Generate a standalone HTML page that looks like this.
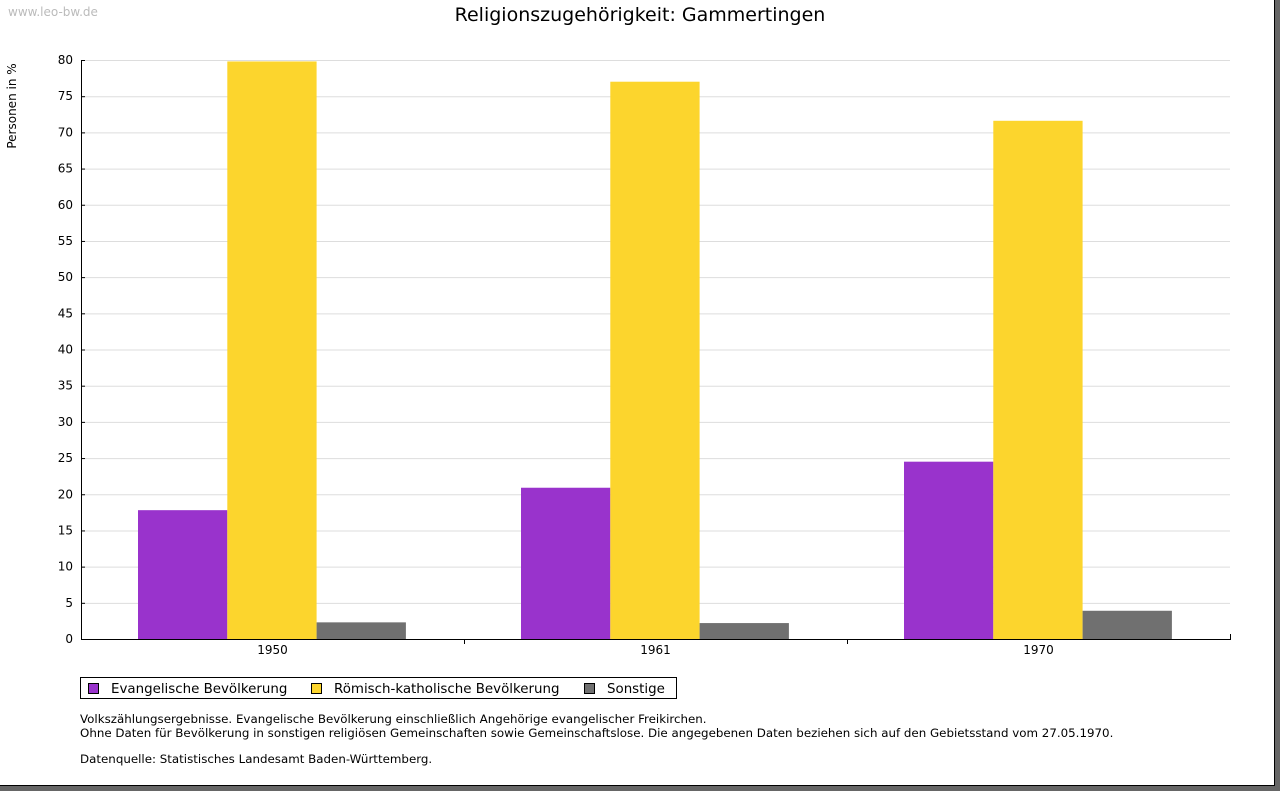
<!DOCTYPE html>
<html><head><meta charset="utf-8"><style>
body{margin:0;background:#fff;font-family:"DejaVu Sans","Liberation Sans",sans-serif}
#wrap{position:relative;width:1280px;height:791px;background:#666}
#page{position:absolute;left:0;top:0;width:1274px;height:785px;background:#fff;border-right:1px solid #000;border-bottom:1px solid #000}
svg{position:absolute;left:0;top:0;font-family:"DejaVu Sans","Liberation Sans",sans-serif}
.note{position:absolute;left:80px;font-size:11.85px;color:#000;white-space:nowrap}
</style></head><body>
<div id="wrap">
<div id="page"></div>
<svg id="chart" width="1280" height="791"></svg>
<div class="note" style="top:712px">Volkszählungsergebnisse. Evangelische Bevölkerung einschließlich Angehörige evangelischer Freikirchen.</div>
<div class="note" style="top:726px">Ohne Daten für Bevölkerung in sonstigen religiösen Gemeinschaften sowie Gemeinschaftslose. Die angegebenen Daten beziehen sich auf den Gebietsstand vom 27.05.1970.</div>
<div class="note" style="top:752px">Datenquelle: Statistisches Landesamt Baden-Württemberg.</div>
</div>
<script>
const categories=["1950","1961","1970"];
const evangelisch=[17.8,20.9,24.5];
const katholisch=[79.8,77.0,71.6];
const sonstige=[2.3,2.2,3.9];
const yTicks=[0,5,10,15,20,25,30,35,40,45,50,55,60,65,70,75,80];
const seriesNames=["Evangelische Bevölkerung","Römisch-katholische Bevölkerung","Sonstige"];
const seriesColors=["#9933cc","#fcd52d","#707070"];

const NS="http://www.w3.org/2000/svg";
const svg=document.getElementById('chart');
const X0=81,X1=1230,Y0=639,Y1=60,YMAX=80;
const y=v=>Y0-(v/YMAX)*(Y0-Y1);
const gw=(X1-X0)/categories.length;
function el(t,a,txt){const e=document.createElementNS(NS,t);for(const k in a)e.setAttribute(k,a[k]);if(txt!==undefined)e.textContent=txt;svg.appendChild(e);return e;}

let e=el('text',{x:640,y:21,'text-anchor':'middle','font-size':19,fill:'#000'},'Religionszugehörigkeit: Gammertingen');

e=el('text',{x:8,y:16,'font-size':12,fill:'#bbb'},'www.leo-bw.de');

e=el('text',{x:0,y:0,transform:'translate(16,106) rotate(-90)','text-anchor':'middle','font-size':12,fill:'#000'},'Personen in %');


yTicks.forEach(t=>{
  if(t>0){const g=el('line',{x1:X0,x2:X1,y1:y(t)+0.5,y2:y(t)+0.5,stroke:'#ddd'});
  }
  const tk=el('line',{x1:X0,x2:X0+4,y1:y(t)+0.5,y2:y(t)+0.5,stroke:'#000'});
  
  const l=el('text',{x:73,y:y(t)+4,'text-anchor':'end','font-size':12,fill:'#000'},String(t));
  
});

const series=[evangelisch,katholisch,sonstige];
const bw=89.3;
categories.forEach((c,i)=>{
  const gx=X0+i*gw+57;
  series.forEach((s,j)=>{
    const r=el('rect',{x:gx+j*bw,y:y(s[i]),width:bw,height:Y0-y(s[i]),fill:seriesColors[j]});
    
  });
  const l=el('text',{x:X0+(i+0.5)*gw,y:654,'text-anchor':'middle','font-size':12,fill:'#000'},c);
  
  const tk=el('line',{x1:X0+(i+1)*gw+0.5,x2:X0+(i+1)*gw+0.5,y1:Y0,y2:Y0-5+ (i<categories.length-1?10:0),stroke:'#000'});
  
});
e=el('line',{x1:X0+0.5,x2:X0+0.5,y1:Y1,y2:Y0,stroke:'#000'});

e=el('line',{x1:X0,x2:X1+1,y1:Y0+0.5,y2:Y0+0.5,stroke:'#000'});


e=el('rect',{x:80.5,y:677.5,width:596,height:21,fill:'#fff',stroke:'#000'});

const lx=[88,311,584];
seriesNames.forEach((n,j)=>{
  const s=el('rect',{x:lx[j]+0.5,y:683.5,width:10,height:10,fill:seriesColors[j],stroke:'#000'});
  
  const t=el('text',{x:lx[j]+23,y:693,'font-size':13.4,fill:'#000'},n);
  
});
</script>
</body></html>
